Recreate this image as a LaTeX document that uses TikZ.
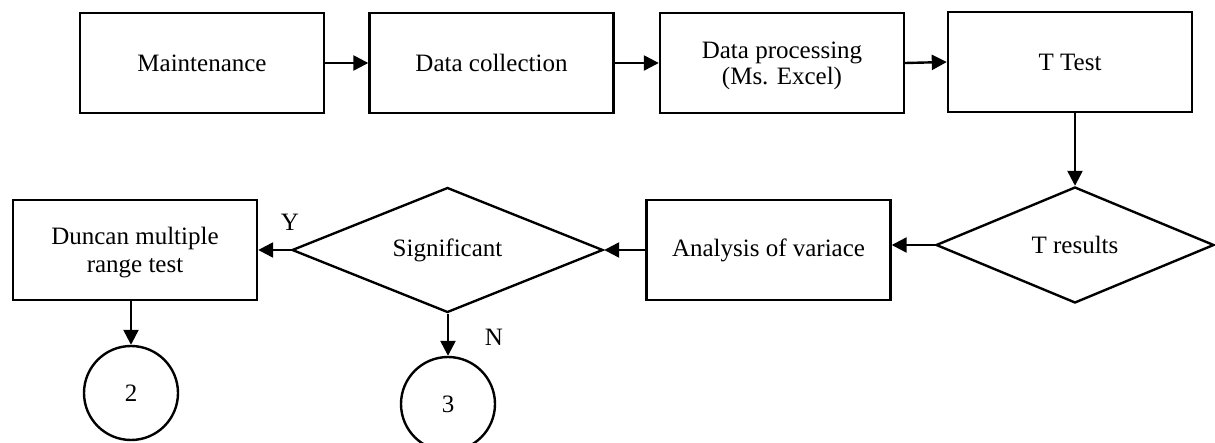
\documentclass[tikz,border=0pt]{standalone}
\usepackage{fontspec}
\setmainfont{Liberation Serif}
\usetikzlibrary{shapes.geometric,arrows.meta}
\begin{document}
\begin{tikzpicture}[x=0.5pt,y=-0.5pt,
  font=\fontsize{12.5}{14}\selectfont,
  box/.style={draw,line width=1.2pt,minimum width=122pt,minimum height=50pt,align=center,inner sep=0pt},
  twoline/.style={text depth=0pt},
  dec/.style={draw,diamond,line width=1.2pt,inner sep=0pt,aspect=2.5},
  conn/.style={draw,circle,line width=1.2pt,minimum size=47pt,inner sep=0pt},
  arr/.style={line width=1.2pt,-{Triangle[length=7.5pt,width=7.5pt]}},
  lab/.style={inner sep=0pt}]
\useasboundingbox (0,0) rectangle (1215,443);
\node[box] (m) at (202,63) {Maintenance};
\node[box] (dc) at (491.5,63) {Data collection};
\node[box,twoline,font=\fontsize{12.5}{13.2}\selectfont] (dp) at (782,63) {Data processing\\(Ms. Excel)};
\node[box] (tt) at (1070,62) {T Test};
\node[dec,minimum width=139pt,minimum height=58pt] (tr) at (1075,245) {T results};
\node[box] (av) at (768.5,250) {Analysis of variace};
\node[dec,minimum width=155.5pt,minimum height=62.5pt] (sg) at (447.5,250) {Significant};
\node[box,twoline,minimum width=122pt] (dn) at (135,250) {Duncan multiple\\range test};
\node[conn] (c2) at (131,393) {2};
\node[conn] (c3) at (448,404) {3};
\node[lab] (y) at (290,222) {Y};
\node[lab] (n) at (494,337) {N};
\draw[arr] (m.east) -- (dc.west);
\draw[arr] (dc.east) -- (dp.west);
\draw[arr] (dp.east) -- (tt.west);
\draw[arr] (tr.north |- tt.south) -- (tr.north);
\draw[arr] (tr.west) -- (tr.west -| av.east);
\draw[arr] (av.west) -- (sg.east);
\draw[arr] (sg.west) -- (dn.east);
\draw[arr] (c2.north |- dn.south) -- (c2.north);
\draw[arr] (c3.north |- sg.south) -- (c3.north);
\end{tikzpicture}
\end{document}
